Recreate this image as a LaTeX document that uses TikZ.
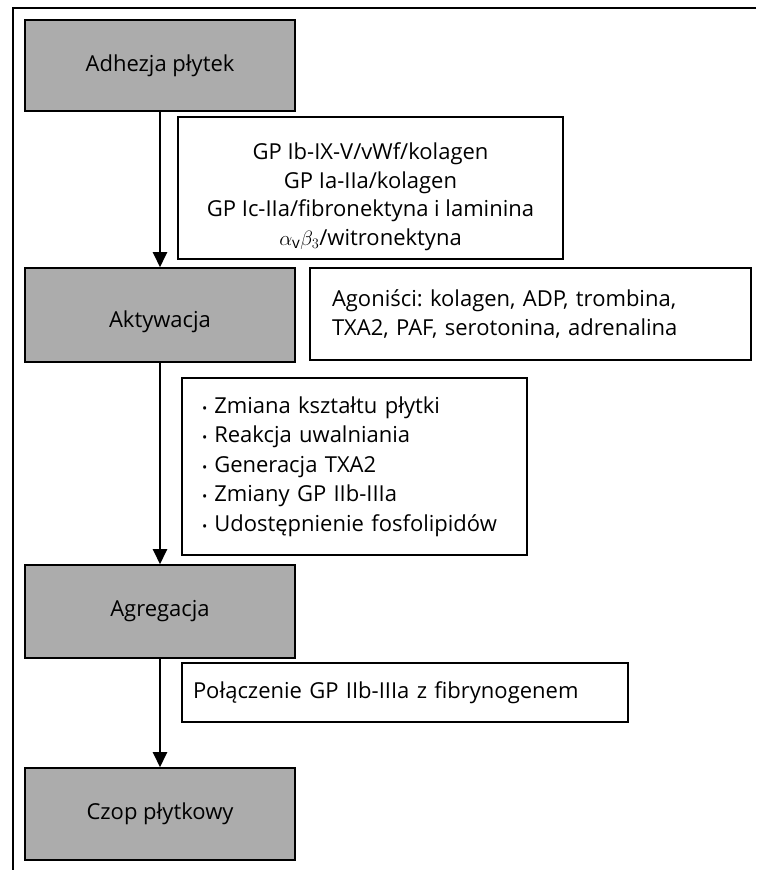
\documentclass[tikz,border=0pt]{standalone}
\usepackage{fontspec}
\setmainfont{Open Sans}
\usetikzlibrary{arrows.meta}
\definecolor{boxgray}{RGB}{172,172,172}
\frenchspacing
\newcommand{\bul}{{\fontsize{14}{14}\selectfont\textbullet}\hspace{7pt}}
\begin{document}
\begin{tikzpicture}[x=1pt,y=-1pt,
  stage/.style={draw, line width=1.6pt, fill=boxgray, minimum width=270pt, inner sep=0pt, font=\fontsize{22}{26}\selectfont},
  info/.style={draw, line width=1.1pt, fill=white, inner sep=0pt, font=\fontsize{22}{28.5}\selectfont},
  flow/.style={line width=2.4pt, -{Triangle[length=15pt,width=14pt]}}]
\useasboundingbox (0,0) rectangle (756,870);
\coordinate (fr1) at (756,8);
\coordinate (fr2) at (13,8);
\coordinate (fr3) at (13,870);
\draw[line width=2pt] (fr1) -- (fr2) -- (fr3);

\node[stage, minimum height=91pt] (a1) at (160,65.5) {Adhezja płytek};
\node[info, minimum width=385pt, minimum height=142pt, align=center] (g1) at (370.5,188)
  {\rule{0pt}{34pt}GP Ib-IX-V/vWf/kolagen\\GP Ia-IIa/kolagen\\GP Ic-IIa/fibronektyna i laminina\\$\alpha_{\mathrm{v}}\beta_3$/witronektyna};
\node[stage, minimum height=94pt] (a2) at (160,315) {\rule{0pt}{30pt}Aktywacja};
\node[info, minimum height=92pt, inner xsep=22pt, text width=397pt, align=left] (g2) at (530.5,314)
  {Agoniści: kolagen, ADP, trombina,\\TXA2, PAF, serotonina, adrenalina};
\node[info, minimum height=177pt, inner xsep=20pt, text width=305pt, align=left, font=\fontsize{22}{29.5}\selectfont] (g3) at (354.5,466.5)
  {\bul Zmiana kształtu płytki\\
   \bul Reakcja uwalniania\\
   \bul Generacja TXA2\\
   \bul Zmiany GP IIb-IIIa\\
   \bul Udostępnienie fosfolipidów};
\node[stage, minimum height=93pt] (a3) at (160,611.5) {Agregacja};
\node[info, minimum height=59pt, inner xsep=11pt, text width=424pt, align=left] (g4) at (405,692.5)
  {Połączenie GP IIb-IIIa z fibrynogenem};
\node[stage, minimum height=92pt] (a4) at (160,814) {Czop płytkowy};

\draw[flow] (a1) -- (a2);
\draw[flow] (a2) -- (a3);
\draw[flow] (a3) -- (a4);
\end{tikzpicture}
\end{document}
